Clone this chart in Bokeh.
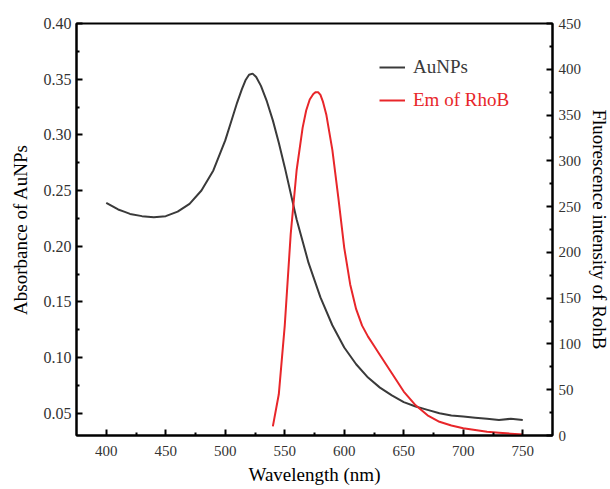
from bokeh.plotting import figure
from bokeh.models import (Range1d, LinearAxis, FixedTicker, PrintfTickFormatter,
                          Legend, LegendItem)
from bokeh.embed import file_html
from bokeh.resources import INLINE

# AuNPs absorbance
au_wl = [400, 405, 410, 415, 420, 430, 440, 450, 460, 470, 480, 490, 500, 505,
         510, 514, 517, 520, 523, 526, 530, 535, 540, 545, 550, 560, 570, 580,
         590, 600, 610, 620, 630, 640, 650, 660, 670, 680, 690, 700, 710, 720,
         730, 740, 750]
au_abs = [0.239, 0.236, 0.233, 0.231, 0.229, 0.227, 0.226, 0.227, 0.231, 0.238,
          0.250, 0.268, 0.295, 0.312, 0.329, 0.341, 0.349, 0.354, 0.355, 0.352,
          0.344, 0.330, 0.313, 0.293, 0.271, 0.224, 0.185, 0.154, 0.129, 0.109,
          0.094, 0.082, 0.073, 0.066, 0.060, 0.056, 0.053, 0.050, 0.048, 0.047,
          0.046, 0.045, 0.044, 0.045, 0.044]

# RhoB emission
em_wl = [540, 545, 550, 555, 560, 565, 568, 571, 574, 576, 578, 580, 582, 585,
         590, 595, 600, 605, 610, 615, 620, 625, 630, 640, 650, 660, 670, 680,
         690, 700, 710, 720, 730, 740, 750]
em_int = [10, 45, 120, 220, 290, 336, 355, 367, 373, 375, 375, 372, 365, 350,
          312, 260, 205, 165, 138, 120, 108, 98, 88, 68, 48, 33, 22, 15, 11, 8,
          6, 4, 3, 2, 1]

x_ticks = [400, 450, 500, 550, 600, 650, 700, 750]
x_minor = [425, 475, 525, 575, 625, 675, 725]
yl_ticks = [0.05, 0.10, 0.15, 0.20, 0.25, 0.30, 0.35, 0.40]
yl_minor = [0.075, 0.125, 0.175, 0.225, 0.275, 0.325, 0.375]
yr_ticks = [0, 50, 100, 150, 200, 250, 300, 350, 400, 450]
yr_minor = [25, 75, 125, 175, 225, 275, 325, 375, 425]

FONT = "Liberation Serif"
BLACK = "#3a3a3a"
RED = "#e8262a"

p = figure(frame_width=476, frame_height=412, output_backend="svg",
           toolbar_location=None, x_range=Range1d(375, 775),
           y_range=Range1d(0.03, 0.40),
           min_border_left=76, min_border_top=23, min_border_right=10,
           min_border_bottom=10)
p.extra_y_ranges = {"fl": Range1d(0, 450)}

p.xgrid.visible = False
p.ygrid.visible = False
p.outline_line_color = "black"
p.outline_line_width = 2
p.background_fill_color = "white"
p.border_fill_color = "white"

def style(ax, size="15px"):
    ax.axis_line_width = 2
    ax.axis_line_color = "black"
    ax.major_tick_in = 6
    ax.major_tick_out = 0
    ax.minor_tick_in = 3
    ax.minor_tick_out = 0
    ax.major_tick_line_width = 2
    ax.minor_tick_line_width = 2
    ax.major_label_text_font = FONT
    ax.major_label_text_font_size = size
    ax.major_label_text_color = "#333333"
    ax.axis_label_text_font = FONT
    ax.axis_label_text_font_size = "19px"
    ax.axis_label_text_font_style = "normal"
    ax.axis_label_text_color = "black"

xa = p.xaxis[0]
xa.ticker = FixedTicker(ticks=x_ticks, minor_ticks=x_minor)
xa.axis_label = "Wavelength (nm)"
style(xa)
xa.major_label_standoff = 10
xa.axis_label_standoff = 5

ya = p.yaxis[0]
ya.ticker = FixedTicker(ticks=yl_ticks, minor_ticks=yl_minor)
ya.formatter = PrintfTickFormatter(format="%.2f")
ya.axis_label = "Absorbance of AuNPs"
style(ya, "16px")
ya.major_label_standoff = 5
ya.axis_label_standoff = 10

ra = LinearAxis(y_range_name="fl")
ra.ticker = FixedTicker(ticks=yr_ticks, minor_ticks=yr_minor)
ra.axis_label = "Fluorescence intensity of RohB"
style(ra)
ra.major_label_standoff = 6
ra.axis_label_standoff = 5
p.add_layout(ra, "right")

r1 = p.line(au_wl, au_abs, line_color=BLACK, line_width=2)
r2 = p.line(em_wl, em_int, line_color=RED, line_width=2, y_range_name="fl")

def mk_legend(label, r, color, loc):
    lg = Legend(items=[LegendItem(label=label, renderers=[r])], location=loc,
                glyph_width=26, glyph_height=20, label_height=20,
                label_standoff=8, padding=0, margin=0, spacing=0,
                border_line_color=None, background_fill_alpha=0,
                label_text_font=FONT, label_text_font_size="19px",
                label_text_color=color)
    p.add_layout(lg, "center")

mk_legend("AuNPs", r1, BLACK, (303, 357))
mk_legend("Em of RhoB", r2, RED, (303, 324))

open("out.html", "w").write(file_html(p, INLINE))
